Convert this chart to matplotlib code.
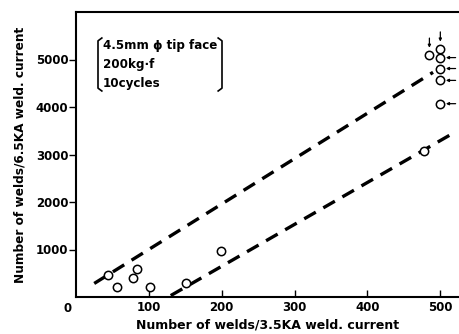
import numpy as np
import matplotlib.pyplot as plt

# data
x_pts = [44, 56, 78, 84, 101, 151, 199, 478, 485, 500, 500, 500, 500, 500]
y_pts = [470, 220, 390, 580, 220, 300, 960, 3080, 5100, 5230, 5040, 4810, 4560, 4070]

# which points carry a down / left arrow
down_idx = [8, 9]
left_idx = [10, 11, 12, 13]

# dashed trend lines (end points)
upper_x = [25, 490]
upper_y = [285, 4730]
lower_x = [130, 520]
lower_y = [30, 3470]

xticks = [100, 200, 300, 400, 500]
yticks = [1000, 2000, 3000, 4000, 5000]
notes = ["4.5mm \u03d5 tip face", "200kg\u00b7f", "10cycles"]

plt.rcParams["font.family"] = "DejaVu Sans"
plt.rcParams["font.weight"] = "bold"

fig = plt.figure(figsize=(4.6, 3.34), dpi=100)
ax = fig.add_axes([76 / 460, 37 / 334, 384 / 460, 285 / 334])

ax.plot(upper_x, upper_y, color="black", lw=2.4, ls=(0, (4, 2.6)))
ax.plot(lower_x, lower_y, color="black", lw=2.4, ls=(0, (4, 2.6)))
ax.plot(x_pts, y_pts, "o", ms=6, mfc="white", mec="black", mew=1.1)

for i in down_idx:
    ax.annotate("", xy=(x_pts[i], y_pts[i]), xytext=(0, 12), textcoords="offset points",
                xycoords="data",
                arrowprops=dict(arrowstyle="-|>", color="black", lw=0.9, mutation_scale=4,
                                shrinkA=0, shrinkB=5))
for i in left_idx:
    ax.annotate("", xy=(x_pts[i], y_pts[i]), xytext=(11, 0), textcoords="offset points",
                xycoords="data",
                arrowprops=dict(arrowstyle="-|>", color="black", lw=0.9, mutation_scale=4,
                                shrinkA=0, shrinkB=4))

ax.set_xlim(0, 527)
ax.set_ylim(0, 6000)
ax.set_xticks(xticks)
ax.set_yticks(yticks)
ax.set_xticklabels([str(t) for t in xticks], fontsize=8.5, fontweight="bold")
ax.set_yticklabels([str(t) for t in yticks], fontsize=8.5, fontweight="bold")
ax.tick_params(axis="x", direction="in", length=5, width=1, pad=3)
ax.tick_params(axis="y", direction="out", length=5, width=1, pad=0.5)
ax.text(-12, -100, "0", ha="center", va="top", fontsize=8.5, fontweight="bold")

for s in ["left", "bottom", "top"]:
    ax.spines[s].set_linewidth(1.5)
ax.spines["right"].set_visible(False)

ax.set_xlabel("Number of welds/3.5KA weld. current", fontsize=9, fontweight="bold", labelpad=3)
ax.set_ylabel("Number of welds/6.5KA weld. current", fontsize=8.7, fontweight="bold", labelpad=7)

# condition box with brackets
tx = (103 - 76) / 384
for k, line in enumerate(notes):
    ax.text(tx, (297 - 45 - 19.5 * k) / 285, line, transform=ax.transAxes,
            fontsize=8.6, fontweight="bold", va="center", ha="left")
bl = (98 - 76) / 384
br = (222 - 76) / 384
bt = (297 - 38) / 285
bb = (297 - 91) / 285
ax.plot([bl + 0.01, bl, bl, bl + 0.01], [bt, bt - 0.01, bb + 0.01, bb], color="black",
        lw=1.2, transform=ax.transAxes, clip_on=False)
ax.plot([br - 0.01, br, br, br - 0.01], [bt, bt - 0.01, bb + 0.01, bb], color="black",
        lw=1.2, transform=ax.transAxes, clip_on=False)

fig.savefig("out.png", dpi=100)
